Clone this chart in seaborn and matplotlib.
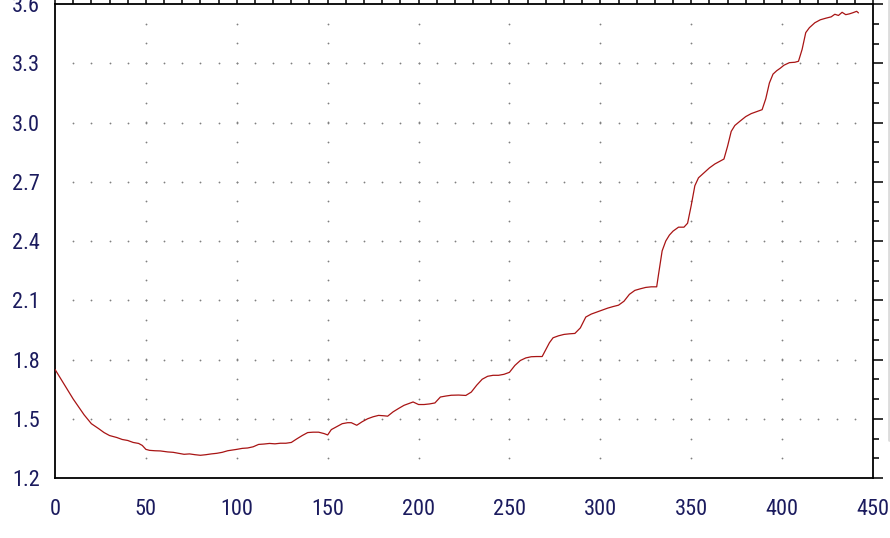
import matplotlib
matplotlib.use("Agg")
import matplotlib.pyplot as plt
import numpy as np
import seaborn as sns
from matplotlib.ticker import MultipleLocator, FormatStrFormatter
from matplotlib.lines import Line2D
from matplotlib import font_manager

# ---------------------------------------------------------
# DATA
# ---------------------------------------------------------
time = [0, 2, 5, 8, 10, 13, 16, 20, 24, 27,
        30, 34, 37, 40, 43, 46, 48, 50, 52, 55,
        58, 62, 65, 68, 71, 74, 77, 80, 83, 86,
        89, 92, 95, 98, 100, 103, 106, 109, 112, 115,
        118, 121, 124, 127, 130, 133, 136, 139, 142, 145,
        148, 150, 152, 155, 158, 161, 163, 166, 169, 172,
        175, 178, 181, 183, 186, 189, 192, 195, 197, 200,
        203, 206, 209, 212, 215, 218, 222, 226, 229, 232,
        235, 238, 241, 244, 247, 250, 253, 256, 259, 262,
        265, 268, 270, 272, 274, 277, 280, 283, 286, 289,
        292, 295, 298, 301, 304, 307, 310, 313, 316, 319,
        322, 325, 328, 331, 332, 334, 336, 338, 340, 343,
        346, 348, 350, 352, 354, 357, 360, 363, 366, 368,
        370, 372, 374, 377, 380, 383, 386, 389, 391, 393,
        395, 397, 399, 401, 404, 407, 409, 411, 413, 415,
        418, 421, 424, 427, 429, 431, 433, 435, 437, 439,
        441, 442]

value = [1.750, 1.720, 1.675, 1.630, 1.600, 1.560, 1.520, 1.475, 1.450, 1.430,
         1.415, 1.405, 1.395, 1.390, 1.380, 1.375, 1.365, 1.345, 1.340, 1.338,
         1.337, 1.332, 1.330, 1.325, 1.320, 1.322, 1.318, 1.315, 1.318, 1.322,
         1.325, 1.330, 1.338, 1.342, 1.345, 1.350, 1.352, 1.358, 1.370, 1.372,
         1.375, 1.373, 1.376, 1.376, 1.380, 1.398, 1.415, 1.430, 1.432, 1.432,
         1.425, 1.418, 1.445, 1.460, 1.475, 1.480, 1.480, 1.467, 1.485, 1.500,
         1.510, 1.517, 1.515, 1.513, 1.535, 1.552, 1.568, 1.578, 1.585, 1.572,
         1.572, 1.575, 1.580, 1.610, 1.615, 1.619, 1.620, 1.618, 1.635, 1.670,
         1.700, 1.715, 1.720, 1.720, 1.725, 1.735, 1.770, 1.795, 1.808, 1.814,
         1.815, 1.815, 1.850, 1.885, 1.910, 1.920, 1.927, 1.930, 1.932, 1.960,
         2.015, 2.030, 2.040, 2.050, 2.060, 2.068, 2.075, 2.095, 2.130, 2.150,
         2.158, 2.165, 2.168, 2.168, 2.230, 2.350, 2.400, 2.430, 2.450, 2.470,
         2.470, 2.490, 2.580, 2.680, 2.720, 2.745, 2.770, 2.790, 2.805, 2.815,
         2.880, 2.955, 2.985, 3.008, 3.030, 3.045, 3.055, 3.065, 3.120, 3.200,
         3.245, 3.262, 3.275, 3.290, 3.303, 3.305, 3.310, 3.370, 3.455, 3.480,
         3.505, 3.520, 3.528, 3.535, 3.548, 3.542, 3.558, 3.546, 3.550, 3.556,
         3.563, 3.555]

assert len(time) == len(value)

# ---------------------------------------------------------
# PLOTTING
# ---------------------------------------------------------
sns.set_theme(style="white")

# the reference uses a tall, narrow face; take a narrow one if installed
installed = {f.name for f in font_manager.fontManager.ttflist}
label_size = 14.5
plt.rcParams["font.family"] = ["Liberation Sans", "DejaVu Sans"]
for cand in ["Liberation Sans Narrow", "Roboto Condensed", "Arial Narrow"]:
    if cand in installed:
        plt.rcParams["font.family"] = [cand, "DejaVu Sans"]
        label_size = 16
        break

label_color = "#1b1b5e"
line_color = "#a81414"

fig = plt.figure(figsize=(8.9, 5.38), dpi=100)
ax = fig.add_axes([55 / 890, 60 / 538, 818 / 890, 474 / 538])

ax.set_xlim(0, 450)
ax.set_ylim(1.2, 3.6)

# dotted grid: dots at minor x along major y lines, dots at minor y along major x lines
gx, gy = np.meshgrid(np.arange(10, 450, 10), np.arange(1.5, 3.4, 0.3))
ax.plot(gx.ravel(), gy.ravel(), ls="none", marker="o", ms=1.3, mew=0,
        color="0.5", zorder=1)
gx2, gy2 = np.meshgrid(np.arange(50, 450, 50), np.arange(1.3, 3.55, 0.1))
ax.plot(gx2.ravel(), gy2.ravel(), ls="none", marker="o", ms=1.3, mew=0,
        color="0.5", zorder=1)

sns.lineplot(x=time, y=value, color=line_color, linewidth=0.9, ax=ax, zorder=3)

ax.xaxis.set_major_locator(MultipleLocator(50))
ax.xaxis.set_minor_locator(MultipleLocator(10))
ax.yaxis.set_major_locator(MultipleLocator(0.3))
ax.yaxis.set_minor_locator(MultipleLocator(0.1))
ax.yaxis.set_major_formatter(FormatStrFormatter("%.1f"))

for s in ax.spines.values():
    s.set_color("black")
    s.set_linewidth(1.3)

ax.tick_params(which="both", direction="out", top=True, right=True,
               labeltop=False, labelright=False, color="black", width=1.1)
ax.tick_params(which="major", length=7, labelcolor=label_color)
ax.tick_params(which="minor", length=4.5)
ax.tick_params(axis="x", which="major", pad=8)
ax.tick_params(axis="y", which="major", pad=4)
for lab in ax.get_xticklabels() + ax.get_yticklabels():
    lab.set_fontsize(label_size)
ax.set_xlabel("")
ax.set_ylabel("")

# faint window edge at the right border
fig.add_artist(Line2D([888.5 / 890, 888.5 / 890], [98 / 538, 1.0],
                      transform=fig.transFigure, color="#dcdcdc", linewidth=2))

fig.savefig("out.png", dpi=100)
